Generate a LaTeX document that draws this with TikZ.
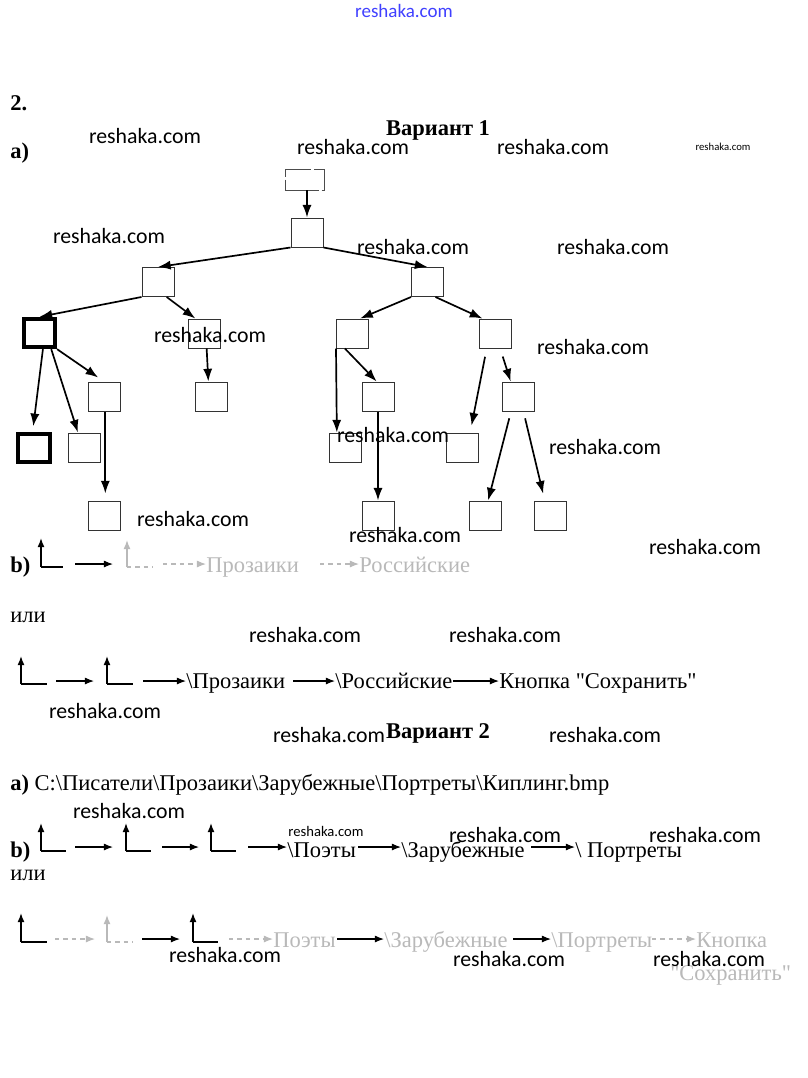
\documentclass[tikz,border=0pt]{standalone}
\usepackage{fontspec}
\setmainfont{Liberation Serif}
\newfontfamily\wmfont{Carlito}
\usetikzlibrary{arrows.meta, calc}

\begin{document}
\begin{tikzpicture}[
    x=0.025cm, y=-0.025cm,
    box/.style={rectangle, draw=black!80, line width=0.7pt, minimum width=0.8cm, minimum height=0.725cm, inner sep=0pt},
    boldbox/.style={box, draw=black, line width=2.8pt, minimum width=0.78cm, minimum height=0.71cm},
    arrow/.style={-{Latex[length=9pt,width=6.5pt]}, line width=1.2pt},
    patharrow/.style={-{Latex[length=6.5pt,width=5pt]}, line width=0.8pt},
    lline/.style={line width=1pt},
    faded/.style={gray!55},
    txt/.style={anchor=base west, inner sep=0pt, font=\fontsize{16}{19}\selectfont},
    txtb/.style={txt, font=\bfseries\fontsize{16}{19}\selectfont},
    wm/.style={inner sep=0pt, font=\wmfont\fontsize{15.5}{18}\selectfont},
]
\fill[white] (0,0) rectangle (808,1078);
\useasboundingbox (0,0) rectangle (808,1078);

% Header
\node[wm, text=blue!75, font=\wmfont\fontsize{13.5}{16}\selectfont] (site) at (404,11) {reshaka.com};
\node[txtb] (num) at (10,110) {2.};
\node[txtb, anchor=base] (var1) at (438,135) {Вариант 1};
\node[txtb] (parta) at (10,158) {a)};

% Tree
\node[box, draw=black!70, dash pattern=on 24pt off 2pt, minimum width=0.975cm, minimum height=0.525cm] (root) at (304.5,179.5) {};
\node[box] (n1) at (307,232.5) {};
\node[box] (n2l) at (158,282) {};
\node[box] (n2r) at (427.5,282) {};
\node[boldbox] (n3a) at (39.5,333) {};
\node[box] (n3b) at (204,333.5) {};
\node[box] (n3c) at (352.5,333.5) {};
\node[box] (n3d) at (495,333.5) {};
\node[box] (n4a) at (104,396.5) {};
\node[box] (n4b) at (211,396.5) {};
\node[box] (n4c) at (378,396.5) {};
\node[box] (n4d) at (518,396.5) {};
\node[boldbox] (n5a) at (34,448) {};
\node[box] (n5b) at (84,447.5) {};
\node[box] (n5c) at (345.5,447.5) {};
\node[box] (n5d) at (462.5,447.5) {};
\node[box] (n6a) at (104,515.5) {};
\node[box] (n6b) at (378,515.5) {};
\node[box] (n6c) at (485.5,515.5) {};
\node[box] (n6d) at (550.5,515.5) {};

\draw[arrow] (root.south -| n1.north) -- (n1.north);
\draw[arrow] (n1.south west) -- (n2l.north);
\draw[arrow] (n1.south east) -- (n2r.north);

% left branch
\draw[arrow] (n2l.south west) -- (n3a.north);
\draw[arrow] (n2l.-60) -- (n3b.120);
\draw[arrow] (n3b.-80) -- (n4b.100);
\draw[arrow, shorten >=4pt] (n3a.-78) -- (n5a.95);
\draw[arrow] (n3a.-54) -- (n5b.112);
\draw[arrow, shorten >=5pt] (n3a.south east) -- (n4a.north);
\draw[arrow, shorten >=5pt] (n4a.-85) -- (n6a.85);

% right branch
\draw[arrow] (n2r.south west) -- (n3c.63);
\draw[arrow] (n2r.-62) -- (n3d.130);
\draw[arrow] (n3c.south west) -- (n5c.120);
\draw[arrow] (n3c.-117) -- (n4c.95);
\draw[arrow] (n4c.south) -- (n6b.north);
\draw[arrow, shorten <=6pt, shorten >=5pt] (n3d.-119) -- (n5d.63);
\draw[arrow, shorten <=6pt] (n3d.-71) -- (n4d.116);
\draw[arrow, shorten <=5pt] (n4d.-115) -- (n6c.80);
\draw[arrow, shorten <=5pt, shorten >=5pt] (n4d.-70) -- (n6d.111);

% b) first row
\node[txtb] (partb1) at (10,572) {b)};
\draw[patharrow, lline] (41,567) -- (41,538);
\draw[lline] (41,567) -- (63,567);
\draw[patharrow] (75,564) -- (113,564);
\draw[patharrow, lline, faded] (127,567) -- (127,540);
\draw[lline, faded, dashed] (127,567) -- (153,567);
\node[txt, faded] (r1a) at (206,572) {Прозаики};
\node[txt, faded] (r1b) at (359,572) {Российские};
\draw[patharrow, faded, dashed] (163,564) -- (r1a.west |- 0,564);
\draw[patharrow, faded, dashed] (320,564) -- (r1b.west |- 0,564);

\node[txt] (ili1) at (10,622) {или};

% second row
\draw[patharrow, lline] (21,684) -- (21,656);
\draw[lline] (21,684) -- (47,684);
\draw[patharrow] (56,681) -- (94,681);
\draw[patharrow, lline] (107,684) -- (107,656);
\draw[lline] (107,684) -- (133,684);
\node[txt] (r2a) at (186,688) {\textbackslash Прозаики};
\node[txt] (r2b) at (335,688) {\textbackslash Российские};
\node[txt] (r2c) at (499,688) {Кнопка \textquotedbl Сохранить\textquotedbl};
\draw[patharrow] (143,681) -- (r2a.west |- 0,681);
\draw[patharrow] (293,681) -- (r2b.west |- 0,681);
\draw[patharrow] (453,681) -- (r2c.west |- 0,681);

% Variant 2
\node[txtb, anchor=base] (var2) at (438,738) {Вариант 2};
\node[txt] (patha) at (10,790) {\textbf{a)} C:\textbackslash Писатели\textbackslash Прозаики\textbackslash Зарубежные\textbackslash Портреты\textbackslash Киплинг.bmp};

% third row
\node[txtb] (partb2) at (10,857) {b)};
\foreach \lx in {41,126,211}{
  \draw[patharrow, lline] (\lx,851) -- (\lx,823);
  \draw[lline] (\lx,851) -- (\lx+25,851);
}
\draw[patharrow] (75,847) -- (113,847);
\draw[patharrow] (162,847) -- (199,847);
\node[txt] (r3a) at (287,857) {\textbackslash Поэты};
\node[txt] (r3b) at (401,857) {\textbackslash Зарубежные};
\node[txt] (r3c) at (575,857) {\textbackslash{} Портреты};
\draw[patharrow] (248,847) -- (r3a.west |- 0,847);
\draw[patharrow] (358,847) -- (r3b.west |- 0,847);
\draw[patharrow] (531,847) -- (r3c.west |- 0,847);

\node[txt] (ili2) at (10,880) {или};

% fourth row
\draw[patharrow, lline] (21,942) -- (21,913);
\draw[lline] (21,942) -- (47,942);
\draw[patharrow, faded, dashed] (55,939) -- (95,939);
\draw[patharrow, lline, faded] (107,942) -- (107,915);
\draw[lline, faded, dashed] (107,942) -- (133,942);
\draw[patharrow] (142,939) -- (180,939);
\draw[patharrow, lline] (193,942) -- (193,913);
\draw[lline] (193,942) -- (218,942);
\node[txt, faded] (r4a) at (273,947) {Поэты};
\node[txt, faded] (r4b) at (384,947) {\textbackslash Зарубежные};
\node[txt, faded] (r4c) at (551,947) {\textbackslash Портреты};
\node[txt, faded] (r4d) at (696,947) {Кнопка};
\node[txt, faded] (r4e) at (670,980) {\textquotedbl Сохранить\textquotedbl};
\draw[patharrow, faded, dashed] (229,939) -- (r4a.west |- 0,939);
\draw[patharrow] (337,939) -- (r4b.west |- 0,939);
\draw[patharrow] (513,939) -- (r4c.west |- 0,939);
\draw[patharrow, faded, dashed] (652,939) -- (r4d.west |- 0,939);

% watermarks
\foreach \wx/\wy [count=\i] in {145/136, 353/147, 553/147, 109/236, 413/247, 613/247,
    210/335, 593/347, 393/435, 605/447, 193/519, 405/535, 705/547, 305/635, 505/635,
    105/711, 329/735, 605/735, 129/811, 505/835, 705/835, 225/955, 509/959, 709/959}
  \node[wm] (wm\i) at (\wx,\wy) {reshaka.com};
\node[wm, font=\wmfont\fontsize{7.6}{9}\selectfont] (wmsmall1) at (723,147) {reshaka.com};
\node[wm, font=\wmfont\fontsize{10.4}{12}\selectfont] (wmsmall2) at (326,831) {reshaka.com};

\end{tikzpicture}
\end{document}
